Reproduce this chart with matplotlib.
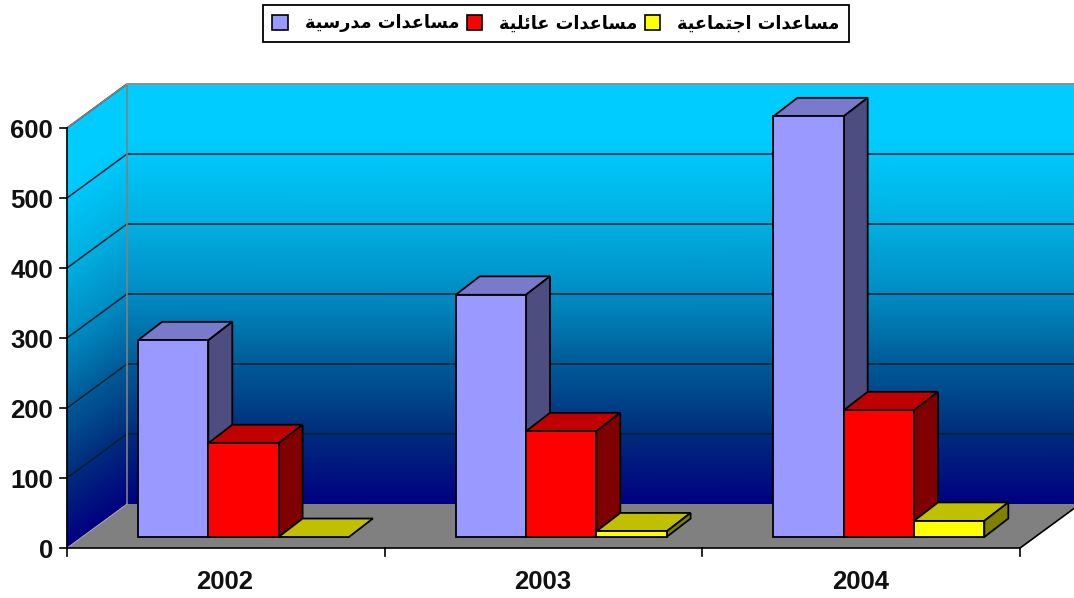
"""Pseudo-3D grouped column chart of assistance by year."""
import matplotlib
matplotlib.use("Agg")
import matplotlib.pyplot as plt
import numpy as np
from matplotlib.colors import LinearSegmentedColormap
from matplotlib.patches import Patch, Polygon

years = ["2002", "2003", "2004"]
school = [281, 346, 601]
family = [134, 151, 181]
social = [0, 8, 23]
y_ticks = [0, 100, 200, 300, 400, 500, 600]
labels = ["مساعدات مدرسية", "مساعدات عائلية", "مساعدات اجتماعية"]

# px per unit on each axis, the whole figure is one axes
PX_X = 317.7
PX_Y = 0.7
DEPTH_X = 60 / PX_X
DEPTH_Y = 44 / PX_Y
BAR_W = 70.3 / PX_X
BAR_START = 71 / PX_X

FORMS = {
    "ا": (0xFE8D, 0xFE8E, None, None), "د": (0xFEA9, 0xFEAA, None, None),
    "ر": (0xFEAD, 0xFEAE, None, None), "ة": (0xFE93, 0xFE94, None, None),
    "ت": (0xFE95, 0xFE96, 0xFE97, 0xFE98), "ج": (0xFE9D, 0xFE9E, 0xFE9F, 0xFEA0),
    "س": (0xFEB1, 0xFEB2, 0xFEB3, 0xFEB4), "ع": (0xFEC9, 0xFECA, 0xFECB, 0xFECC),
    "ل": (0xFEDD, 0xFEDE, 0xFEDF, 0xFEE0), "م": (0xFEE1, 0xFEE2, 0xFEE3, 0xFEE4),
    "ي": (0xFEF1, 0xFEF2, 0xFEF3, 0xFEF4), "ئ": (0xFE89, 0xFE8A, 0xFE8B, 0xFE8C),
}


def shape(text):
    """Join Arabic letters and put them in drawing order, matplotlib does neither."""
    out = []
    for i, ch in enumerate(text):
        if ch not in FORMS:
            out.append(ch)
            continue
        prev = text[i - 1] if i > 0 else " "
        nxt = text[i + 1] if i + 1 < len(text) else " "
        from_prev = prev in FORMS and FORMS[prev][2] is not None
        to_next = nxt in FORMS and FORMS[ch][2] is not None
        form = {(False, False): 0, (True, False): 1, (False, True): 2, (True, True): 3}[(from_prev, to_next)]
        out.append(chr(FORMS[ch][form]))
    return "".join(reversed(out))


def box(ax, x, w, h, base, colors, zorder):
    """Front, top and side faces of one column."""
    dx, dy = DEPTH_X * 0.4, DEPTH_Y * 0.42
    front, top, side = colors
    kw = dict(ec="black", lw=1.3, zorder=zorder, joinstyle="miter")
    ax.add_patch(Polygon([(x, base + h), (x + dx, base + h + dy), (x + w + dx, base + h + dy), (x + w, base + h)], fc=top, **kw))
    if h > 0:
        ax.add_patch(Polygon([(x + w, base), (x + w + dx, base + dy), (x + w + dx, base + h + dy), (x + w, base + h)], fc=side, **kw))
        ax.add_patch(Polygon([(x, base), (x + w, base), (x + w, base + h), (x, base + h)], fc=front, **kw))


plt.rcParams["font.family"] = ["Liberation Sans", "DejaVu Sans"]
fig = plt.figure(figsize=(10.74, 5.98), dpi=100)
ax = fig.add_axes([0, 0, 1, 1])
ax.set_xlim(-67 / PX_X, (1074 - 67) / PX_X)
ax.set_ylim(-50 / PX_Y, 548 / PX_Y)
ax.axis("off")

wall = LinearSegmentedColormap.from_list(
    "wall",
    [(0, "#000080"), (0.17, "#002D7D"), (0.33, "#005A96"), (0.5, "#008CC3"), (0.67, "#00B0E1"), (0.87, "#00CCFF"), (1, "#00CCFF")],
)
ymax = y_ticks[-1]
n_cat = len(years)
ramp = np.linspace(0, 1, 40)
ramp = np.column_stack([ramp, ramp])

# back wall and side wall
back_x = np.array([DEPTH_X, n_cat + DEPTH_X])
back_y = np.linspace(DEPTH_Y, DEPTH_Y + ymax, 40)
ax.pcolormesh(back_x, back_y, ramp, cmap=wall, shading="gouraud", zorder=1)
side_x = np.column_stack([np.zeros(40), np.full(40, DEPTH_X)])
side_y = np.column_stack([np.linspace(0, ymax, 40), np.linspace(DEPTH_Y, DEPTH_Y + ymax, 40)])
ax.pcolormesh(side_x, side_y, ramp, cmap=wall, shading="gouraud", zorder=1)

# floor
ax.add_patch(Polygon([(0, 0), (DEPTH_X, DEPTH_Y), (n_cat + DEPTH_X, DEPTH_Y), (n_cat, 0)], fc="#808080", ec="none", zorder=2))
ax.plot([0, n_cat, n_cat + DEPTH_X], [0, 0, DEPTH_Y], color="black", lw=1.2, zorder=3)

# grid on both walls
for t in y_ticks[1:]:
    ax.plot([0, DEPTH_X, n_cat + DEPTH_X], [t, t + DEPTH_Y, t + DEPTH_Y], color="#03202f", lw=1.1, zorder=2)
ax.plot([0, DEPTH_X, DEPTH_X], [ymax, ymax + DEPTH_Y, DEPTH_Y], color="#808080", lw=1.2, zorder=2)
ax.plot([DEPTH_X, n_cat + DEPTH_X], [ymax + DEPTH_Y] * 2, color="#a0a0a0", lw=1.2, zorder=2)
ax.plot([0, DEPTH_X], [0, DEPTH_Y], color="#b0b8c0", lw=0.6, zorder=2)
ax.plot([0, 0], [0, ymax], color="black", lw=1.2, zorder=3)

# ticks and labels
for t in y_ticks:
    ax.plot([-7 / PX_X, 0], [t, t], color="black", lw=1.2, zorder=3)
    ax.text(-14 / PX_X, t - 2.5 / PX_Y, str(t), ha="right", va="center", fontsize=18.5, fontweight="bold", color="#111111")
for i in range(n_cat + 1):
    ax.plot([i, i], [0, -8 / PX_Y], color="black", lw=1.2, zorder=3)
for i, year in enumerate(years):
    ax.text(i + 0.497, -34 / PX_Y, year, ha="center", va="center", fontsize=18.5, fontweight="bold", color="#111111")

series = [
    (school, ("#9999FF", "#7A7ACC", "#4D4D80")),
    (family, ("#FF0000", "#C00000", "#800000")),
    (social, ("#FFFF00", "#C0C000", "#808000")),
]
for i in range(n_cat):
    for k, (values, colors) in enumerate(series):
        box(ax, i + BAR_START + k * BAR_W, BAR_W, values[i], DEPTH_Y * 0.25, colors, 4 + k)

handles = [Patch(fc=c[0], ec="black", lw=1.2) for _, c in series]
leg = ax.legend(
    handles, [shape(s) for s in labels], ncols=3, loc="center", bbox_to_anchor=(556 / 1074, 1 - 23.5 / 598),
    frameon=True, fancybox=False, framealpha=1, edgecolor="black", handlelength=0.9, handleheight=0.9,
    handletextpad=0.95, columnspacing=0.4, borderpad=0.55, borderaxespad=0,
    prop={"family": "DejaVu Sans", "weight": "bold", "size": 12.7},
)
leg.get_frame().set_linewidth(1.3)
leg.set_zorder(10)

fig.savefig("out.png", dpi=100)
plt.close(fig)
